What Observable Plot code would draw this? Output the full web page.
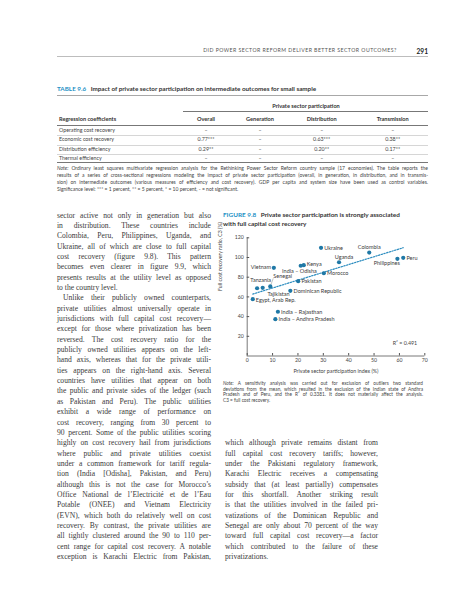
<!DOCTYPE html>
<html><head><meta charset="utf-8">
<script src="https://cdn.jsdelivr.net/npm/d3@7"></script>
<script src="https://cdn.jsdelivr.net/npm/@observablehq/plot@0.6"></script>
<style>
html,body{margin:0;padding:0;background:#fff;}
#page{position:relative;width:457px;height:600px;overflow:hidden;font-family:Lato, sans-serif;color:#333;}
.t{position:absolute;white-space:nowrap;line-height:1;}
.j{position:absolute;white-space:nowrap;line-height:1;text-align:justify;text-align-last:justify;}
.r{position:absolute;}
#chart{position:absolute;left:214px;top:228px;}
#chart svg{overflow:visible;}
</style></head>
<body><div id="page"><div id="chart"></div></div>
<script>
// ---------- chart data ----------
const countries = ["Ukraine","Colombia","Uganda","Peru","Philippines","Vietnam","Kenya","India – Odisha","Morocco","Pakistan","Tanzania","Tajikistan","Senegal","Dominican Republic","Egypt, Arab Rep.","India – Rajasthan","India – Andhra Pradesh"];
const psp = [29.1, 48.1, 36.2, 61.5, 59.2, 10.5, 22.3, 21.1, 30.2, 20.1, 3.9, 6.1, 9.1, 17.0, 2.2, 12.1, 11.1];
const c3  = [109.8, 105.0, 95.2, 99.7, 98.7, 89.5, 92.2, 91.6, 84.0, 76.0, 68.8, 69.2, 70.6, 66.2, 57.7, 44.9, 37.4];
const xTicks = [0, 10, 20, 30, 40, 50, 60, 70];
const yTicks = [20, 40, 60, 80, 100, 120];
const xDomain = [0, 70];
const yDomain = [0, 120];
const xLabel = "Private sector participation index (%)";
const yLabel = "Full cost recovery ratio, C3 (%)";
const r2Label = "R² = 0.491";

// ---------- table data ----------
const tableCols = ["Overall", "Generation", "Distribution", "Transmission"];
const tableRows = ["Operating cost recovery", "Economic cost recovery", "Distribution efficiency", "Thermal efficiency"];
const tableVals = [
  ["–", "–", "–", "–"],
  ["0.77***", "–", "0.63***", "0.38**"],
  ["0.29**", "–", "0.20**", "0.17**"],
  ["–", "–", "–", "–"]
];

const page = document.getElementById("page");
function txt(html, x, y, o = {}) {
  const e = document.createElement("div");
  e.className = "t";
  e.innerHTML = html;
  e.style.left = x + "px";
  e.style.top = y + "px";
  e.style.fontSize = (o.fs || 6) + "px";
  if (o.weight) e.style.fontWeight = o.weight;
  if (o.color) e.style.color = o.color;
  if (o.ls) e.style.letterSpacing = o.ls + "px";
  if (o.family) e.style.fontFamily = o.family;
  const ax = o.anchor === "end" ? "-100%" : o.anchor === "middle" ? "-50%" : "0";
  e.style.transform = `translate(${ax},-50%)`;
  page.appendChild(e);
  return e;
}
function hr(x1, x2, y, w, c) {
  const e = document.createElement("div");
  e.className = "r";
  e.style.left = x1 + "px"; e.style.width = (x2 - x1) + "px";
  e.style.top = (y - w / 2) + "px"; e.style.height = w + "px";
  e.style.background = c;
  page.appendChild(e);
}
function block(lines, x, w, y0, step, fs, o = {}) {
  lines.forEach((ln, i) => {
    let s = ln, indent = 0, last = false;
    if (s.startsWith(">")) { indent = o.indent || 6; s = s.slice(1); }
    if (s.endsWith("|")) { last = true; s = s.slice(0, -1); }
    const e = document.createElement("div");
    e.className = last ? "t" : "j";
    e.style.left = (x + indent) + "px";
    e.style.width = (w - indent) + "px";
    e.style.top = (y0 + i * step - fs / 2) + "px";
    e.style.fontSize = fs + "px";
    e.style.fontFamily = o.family || "Lato, sans-serif";
    e.style.color = o.color || "#333";
    page.appendChild(e);
    // measure natural width; tighten letter spacing if it would overflow
    const sp = document.createElement("span");
    sp.innerHTML = s; sp.style.whiteSpace = "nowrap";
    e.appendChild(sp);
    const nat = sp.getBoundingClientRect().width;
    const ls = nat > w - indent ? (-(nat - (w - indent) + 0.5) / s.length) : 0;
    e.innerHTML = s;
    if (ls) e.style.letterSpacing = ls + "px";
  });
}

// ---------- running head ----------
txt("DID POWER SECTOR REFORM DELIVER BETTER SECTOR OUTCOMES?", 396.7, 50.5, {anchor: "end", fs: 5.2, ls: 0.45, color: "#555"});
txt("291", 428, 50.5, {anchor: "end", fs: 6.6, weight: 700, color: "#222"});
hr(57, 428, 56, 0.7, "#bdbdbd");

// ---------- table ----------
txt('<span style="color:#2490c5">TABLE 9.6</span>&nbsp;&nbsp;&nbsp;Impact of private sector participation on intermediate outcomes for small sample', 57, 89.3, {fs: 6.3, weight: 700, color: "#333"});
hr(57, 428, 95.7, 1.6, "#a8a8a8");
txt("Private sector participation", 306, 106, {anchor: "middle", fs: 5.6, weight: 700, color: "#333"});
hr(183, 428, 111.3, 0.7, "#777");
const colX = [206, 260, 321.7, 392.7];
txt("Regression coefficients", 59, 119.3, {fs: 5.6, weight: 700, color: "#333"});
tableCols.forEach((c, i) => txt(c, colX[i], 119.3, {anchor: "middle", fs: 5.6, weight: 700, color: "#333"}));
hr(57, 428, 125.3, 0.8, "#777");
const rowY = [130.5, 140.2, 149.7, 159.2];
tableRows.forEach((r, i) => {
  txt(r, 59, rowY[i], {fs: 5.3, color: "#444"});
  tableVals[i].forEach((v, k) => txt(v, colX[k], rowY[i], {anchor: "middle", fs: 5.3, color: "#444"}));
  if (i < 3) hr(57, 428, rowY[i] + 4.9, 0.4, "#d6d6d6");
});
hr(57, 428, 162.2, 0.8, "#777");
block([
  "<i>Note:</i> Ordinary least squares multivariate regression analysis for the Rethinking Power Sector Reform country sample (17 economies). The table reports the",
  "results of a series of cross-sectional regressions modeling the impact of private sector participation (overall, in generation, in distribution, and in transmis-",
  "sion) on intermediate outcomes (various measures of efficiency and cost recovery). GDP per capita and system size have been used as control variables.",
  "Significance level: *** = 1 percent, ** = 5 percent, * = 10 percent, - = not significant.|"
], 57, 371, 168.3, 7.1, 5.0, {color: "#444"});

// ---------- figure title ----------
txt('<span style="color:#2490c5">FIGURE 9.8</span>&nbsp;&nbsp;&nbsp;Private sector participation is strongly associated', 223, 215, {fs: 6.4, weight: 700, color: "#333"});
txt("with full capital cost recovery", 223, 224, {fs: 6.4, weight: 700, color: "#333"});

// ---------- chart ----------
const data = countries.map((name, i) => ({name, x: psp[i], y: c3[i]}));
const sel = names => data.filter(d => names.includes(d.name));
const dotColor = "#1f78a6";
const lab = {x: "x", y: "y", text: "name", fill: "#3a3a3a", fontSize: 5.5};
const chart = Plot.plot({
  width: 216, height: 152,
  marginLeft: 32.7, marginRight: 5.7, marginTop: 9.3, marginBottom: 24.5,
  x: {domain: xDomain}, y: {domain: yDomain},
  style: {fontFamily: "Lato, sans-serif", fontSize: "5.2px", color: "#444", background: "none", overflow: "visible"},
  marks: [
    Plot.ruleX(xDomain.slice(0, 1), {stroke: "#555", strokeWidth: 0.8}),
    Plot.ruleY(yDomain.slice(0, 1), {stroke: "#555", strokeWidth: 0.8}),
    Plot.axisX({ticks: xTicks, tickSize: -2.5, tickPadding: 5.2, label: null, stroke: "#555", fontSize: 5.2}),
    Plot.axisY({ticks: yTicks, tickSize: -2.5, tickPadding: 5.9, label: null, stroke: "#555", fontSize: 5.2}),
    Plot.linearRegressionY(data, {x: "x", y: "y", stroke: "#2b8cbf", strokeWidth: 1.2, strokeDasharray: "1.4,1.4", ci: 0}),
    Plot.vector(sel(["Senegal"]), {x: "x", y: "y", length: 8.2, rotate: 20, anchor: "start", stroke: "#777", strokeWidth: 0.4,
      shape: {draw(ctx, l) { ctx.moveTo(0, -2.4); ctx.lineTo(0, -l); }}}),
    Plot.dot(data, {x: "x", y: "y", r: 2.1, fill: dotColor}),
    Plot.text(sel(["Ukraine","Peru","Morocco","Pakistan","Dominican Republic","India – Rajasthan","India – Andhra Pradesh"]), {...lab, textAnchor: "start", dx: 3.2, dy: 0.3}),
    Plot.text(sel(["Kenya"]), {...lab, textAnchor: "start", dx: 3, dy: -1}),
    Plot.text(sel(["Egypt, Arab Rep."]), {...lab, textAnchor: "start", dx: 3, dy: 1}),
    Plot.text(sel(["Colombia"]), {...lab, dy: -5}),
    Plot.text(sel(["Uganda"]), {...lab, dx: 5, dy: -5}),
    Plot.text(sel(["Tanzania"]), {...lab, dx: 3.6, dy: -7.6}),
    Plot.text(sel(["Vietnam"]), {...lab, textAnchor: "end", dx: -2.8, dy: -0.5}),
    Plot.text(sel(["India – Odisha"]), {...lab, dx: -1.3, dy: 5.4}),
    Plot.text(sel(["Philippines"]), {...lab, textAnchor: "end", dx: 2.5, dy: 4.5}),
    Plot.text(sel(["Senegal"]), {...lab, textAnchor: "start", dx: 3, dy: -9.8}),
    Plot.text(sel(["Tajikistan"]), {...lab, textAnchor: "start", dx: 4.7, dy: 6}),
    Plot.text([yLabel], {frameAnchor: "left", rotate: -90, dx: -26.7, dy: -6, fontSize: 5.2, fill: "#444"}),
    Plot.text([xLabel], {frameAnchor: "bottom", dy: 17, fontSize: 5.3, fill: "#444"}),
    Plot.text([r2Label], {frameAnchor: "bottom-right", textAnchor: "end", dx: -7.6, dy: -10.8, fontSize: 5.3, fill: "#444"})
  ]
});
document.getElementById("chart").appendChild(chart);

// ---------- figure note ----------
block([
  "<i>Note:</i> A sensitivity analysis was carried out for exclusion of outliers two standard",
  "deviations from the mean, which resulted in the exclusion of the Indian state of Andhra",
  "Pradesh and of Peru, and the R² of 0.3381. It does not materially affect the analysis.",
  "C3 = full cost recovery.|"
], 223, 200, 383.3, 5.65, 4.7, {color: "#444"});

// ---------- body text ----------
const serif = "'Liberation Serif', 'DejaVu Serif', serif";
const leftLines = [
  "sector active not only in generation but also",
  "in distribution. These countries include",
  "Colombia, Peru, Philippines, Uganda, and",
  "Ukraine, all of which are close to full capital",
  "cost recovery (figure 9.8). This pattern",
  "becomes even clearer in figure 9.9, which",
  "presents results at the utility level as opposed",
  "to the country level.|",
  ">Unlike their publicly owned counterparts,",
  "private utilities almost universally operate in",
  "jurisdictions with full capital cost recovery—",
  "except for those where privatization has been",
  "reversed. The cost recovery ratio for the",
  "publicly owned utilities appears on the left-",
  "hand axis, whereas that for the private utili-",
  "ties appears on the right-hand axis. Several",
  "countries have utilities that appear on both",
  "the public and private sides of the ledger (such",
  "as Pakistan and Peru). The public utilities",
  "exhibit a wide range of performance on",
  "cost recovery, ranging from 30 percent to",
  "90 percent. Some of the public utilities scoring",
  "highly on cost recovery hail from jurisdictions",
  "where public and private utilities coexist",
  "under a common framework for tariff regula-",
  "tion (India [Odisha], Pakistan, and Peru)",
  "although this is not the case for Morocco’s",
  "Office National de l’Electricité et de l’Eau",
  "Potable (ONEE) and Vietnam Electricity",
  "(EVN), which both do relatively well on cost",
  "recovery. By contrast, the private utilities are",
  "all tightly clustered around the 90 to 110 per-",
  "cent range for capital cost recovery. A notable",
  "exception is Karachi Electric from Pakistan,"
];
const rightLines = [
  "which although private remains distant from",
  "full capital cost recovery tariffs; however,",
  "under the Pakistani regulatory framework,",
  "Karachi Electric receives a compensating",
  "subsidy that (at least partially) compensates",
  "for this shortfall. Another striking result",
  "is that the utilities involved in the failed pri-",
  "vatizations of the Dominican Republic and",
  "Senegal are only about 70 percent of the way",
  "toward full capital cost recovery—a factor",
  "which contributed to the failure of these",
  "privatizations.|"
];
block(leftLines, 57, 154, 215.3, 10.35, 7.6, {family: serif, color: "#3a3a3a", indent: 6});
block(rightLines, 225, 153, 443, 10.35, 7.6, {family: serif, color: "#3a3a3a"});
</script>
</body></html>
